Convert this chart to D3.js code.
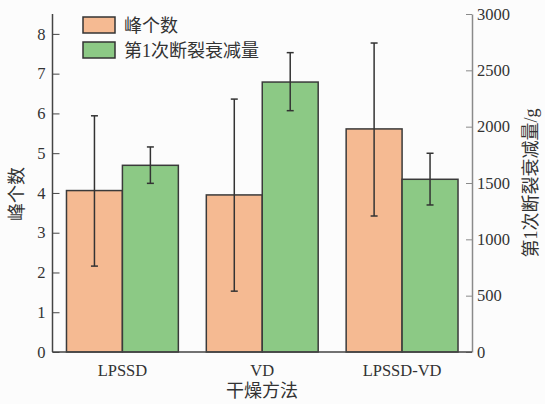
<!DOCTYPE html>
<html>
<head>
<meta charset="utf-8">
<script src="https://cdn.jsdelivr.net/npm/d3@7"></script>
<style>
	body { margin: 0; background: #fcfcfc; }
	svg { display: block; }
	text { font-family: "Liberation Serif", "Noto Sans CJK SC", serif; fill: #333; }
</style>
</head>
<body>
<svg width="545" height="404"></svg>
<script>
// data
let methods = ["LPSSD", "VD", "LPSSD-VD"];
let peaks = [4.06, 3.95, 5.61];
let peaksLow = [2.16, 1.53, 3.42];
let peaksHigh = [5.94, 6.36, 7.77];
let decay = [1657, 2396, 1533];
let decayLow = [1497, 2142, 1305];
let decayHigh = [1820, 2657, 1764];
let leftTicks = [0, 1, 2, 3, 4, 5, 6, 7, 8];
let rightTicks = [0, 500, 1000, 1500, 2000, 2500, 3000];
let seriesNames = ["峰个数", "第1次断裂衰减量"];
let colors = ["#f5ba92", "#8cc985"];

let svg = d3.select("svg");
let x0 = 52.5, x1 = 472, y0 = 14, y1 = 352;

let x = d3.scaleBand().domain(methods).range([x0, x1])
	.paddingInner(0.2).paddingOuter(0.1);
let sub = d3.scaleBand().domain([0, 1]).range([0, x.bandwidth()]);
let yL = d3.scaleLinear().domain([0, 8.5]).range([y1, y0]);
let yR = d3.scaleLinear().domain([0, 3000]).range([y1, y0]);

let rows = methods.map(function(m, i){
	return [
		{ m: m, k: 0, v: peaks[i], lo: peaksLow[i], hi: peaksHigh[i], y: yL },
		{ m: m, k: 1, v: decay[i], lo: decayLow[i], hi: decayHigh[i], y: yR }
	];
}).flat();

// bars
svg.append("g").selectAll("rect").data(rows).enter().append("rect")
	.attr("x", function(d){ return x(d.m) + sub(d.k); })
	.attr("width", sub.bandwidth())
	.attr("y", function(d){ return d.y(d.v); })
	.attr("height", function(d){ return y1 - d.y(d.v); })
	.attr("fill", function(d){ return colors[d.k]; })
	.attr("stroke", "#3a3a3a")
	.attr("stroke-width", 1.5);

// error bars
let err = svg.append("g").attr("stroke", "#333").attr("stroke-width", 1.5);
rows.forEach(function(d){
	let cx = x(d.m) + sub(d.k) + sub.bandwidth() / 2;
	err.append("line").attr("x1", cx).attr("x2", cx)
		.attr("y1", d.y(d.lo)).attr("y2", d.y(d.hi));
	[d.lo, d.hi].forEach(function(v){
		err.append("line").attr("x1", cx - 3.5).attr("x2", cx + 3.5)
			.attr("y1", d.y(v)).attr("y2", d.y(v));
	});
});

// axes
let axL = svg.append("g").attr("transform", "translate(" + x0 + ",0)")
	.call(d3.axisRight(yL).tickValues(leftTicks).tickSize(7).tickSizeOuter(0));
axL.select(".domain").attr("d", "M0," + y0 + "V" + y1);
axL.selectAll("text").attr("x", -7).attr("text-anchor", "end");

let axR = svg.append("g").attr("transform", "translate(" + x1 + ",0)")
	.call(d3.axisLeft(yR).tickValues(rightTicks).tickFormat(d3.format("d"))
		.tickSize(6).tickSizeOuter(0));
axR.selectAll("text").attr("x", 5).attr("text-anchor", "start");

let axB = svg.append("g").attr("transform", "translate(0," + y1 + ")")
	.call(d3.axisBottom(x).tickSize(0).tickSizeOuter(0));
axB.select(".domain").attr("d", "M" + x0 + ",0H" + x1);
axB.selectAll("text").attr("dy", "1.25em");

[axL, axR, axB].forEach(function(a){
	a.selectAll("text").style("font-size", "16.5px").attr("fill", "#333");
	a.select(".domain").attr("stroke-width", 1.5);
});
axL.selectAll("line, .domain").attr("stroke", "#444");
axB.selectAll(".domain").attr("stroke", "#444");
axR.selectAll("line, .domain").attr("stroke", "#8a8a8a");

// axis titles
svg.append("text").attr("transform", "translate(23,194) rotate(-90)")
	.attr("text-anchor", "middle").style("font-size", "18px").text("峰个数");
svg.append("text").attr("transform", "translate(537,183) rotate(-90)")
	.attr("text-anchor", "middle").style("font-size", "18px").text("第1次断裂衰减量/g");
svg.append("text").attr("x", 262).attr("y", 397)
	.attr("text-anchor", "middle").style("font-size", "18px").text("干燥方法");

// legend
let leg = svg.append("g").selectAll("g").data(seriesNames).enter().append("g")
	.attr("transform", function(d, i){ return "translate(83," + (17 + i * 25) + ")"; });
leg.append("rect").attr("width", 32).attr("height", 16)
	.attr("fill", function(d, i){ return colors[i]; })
	.attr("stroke", "#333").attr("stroke-width", 1.5);
leg.append("text").attr("x", 41).attr("y", 15)
	.style("font-size", "18px").text(function(d){ return d; });
</script>
</body>
</html>
